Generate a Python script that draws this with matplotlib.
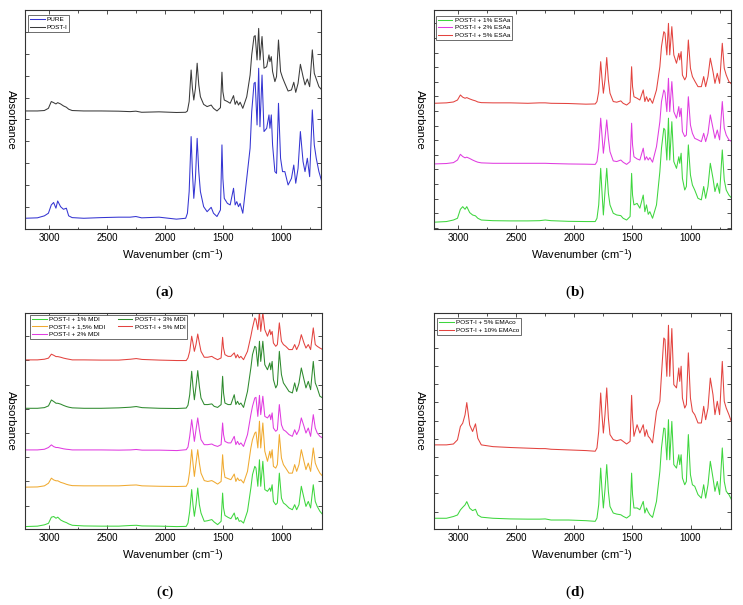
import matplotlib
matplotlib.use('Agg')
import matplotlib.pyplot as plt
from matplotlib.ticker import MultipleLocator

plt.rcParams['font.family'] = ['Liberation Sans', 'DejaVu Sans']
plt.rcParams['mathtext.fontset'] = 'custom'
plt.rcParams['mathtext.rm'] = 'Liberation Serif'
plt.rcParams['mathtext.bf'] = 'Liberation Serif:bold'
plt.rcParams['mathtext.it'] = 'Liberation Serif:italic'

# ---------------- data (wavenumber in cm-1, absorbance in arbitrary offset units) -------------
WAVENUMBER = [3210, 3100, 3040, 3005, 2980, 2960, 2940, 2925, 2900, 2875, 2850, 2830, 2800,
              2700, 2550, 2400, 2300, 2250, 2200, 2050, 1900,
              1820, 1805, 1790, 1773, 1762, 1750, 1736, 1721, 1707, 1693,
              1665, 1635, 1600, 1580, 1550, 1520, 1507, 1499, 1487, 1460,
              1436, 1407, 1393, 1379, 1364, 1350, 1327, 1293, 1264, 1250,
              1230, 1220, 1204, 1190, 1179, 1161, 1144, 1121, 1101, 1093,
              1081, 1070, 1050, 1036, 1019, 1001, 984, 964, 936, 907,
              887, 870, 850, 830, 807, 790, 770, 750, 727, 710,
              693, 670, 645]

# panel (a)
PURE = [0.49, 0.51, 0.60, 0.72, 1.10, 1.21, 0.95, 1.28, 1.02, 0.90, 0.95, 0.60, 0.52,
        0.49, 0.52, 0.54, 0.54, 0.57, 0.51, 0.54, 0.45,
        0.49, 0.72, 1.71, 4.22, 2.62, 1.40, 2.31, 4.14, 2.62, 1.71,
        1.02, 0.79, 0.99, 0.72, 0.57, 0.87, 3.84, 2.31, 1.40, 1.17,
        1.10, 1.86, 1.10, 1.25, 1.02, 1.17, 0.72, 2.31, 3.69, 5.36,
        6.65, 6.70, 4.75, 7.34, 4.67, 7.03, 4.45, 4.60, 5.21, 4.60,
        5.21, 3.84, 2.62, 2.54, 5.74, 3.23, 2.62, 2.62, 2.01, 2.31,
        2.92, 2.09, 2.77, 4.45, 3.08, 2.62, 3.23, 2.39, 5.44, 3.84,
        3.23, 2.62, 2.16]
POST_I = [5.39, 5.39, 5.41, 5.51, 5.82, 5.77, 5.71, 5.77, 5.71, 5.62, 5.56, 5.47, 5.41,
          5.39, 5.39, 5.38, 5.36, 5.38, 5.33, 5.35, 5.32,
          5.33, 5.39, 5.82, 7.26, 6.42, 5.89, 6.42, 7.57, 6.58, 6.04,
          5.69, 5.59, 5.66, 5.51, 5.39, 5.54, 7.16, 6.27, 5.89, 5.82,
          5.74, 6.09, 5.69, 5.85, 5.66, 5.79, 5.51, 6.04, 7.03, 7.95,
          8.79, 8.83, 7.72, 9.16, 7.72, 8.79, 7.34, 7.41, 7.95, 7.64,
          7.87, 7.19, 6.73, 6.96, 8.63, 7.19, 6.91, 6.65, 6.30, 6.35,
          6.70, 6.24, 6.65, 7.52, 6.96, 6.58, 6.85, 6.50, 8.18, 7.11,
          6.85, 6.50, 6.35]

# panel (b)
ESAA_1 = [0.31, 0.34, 0.41, 0.49, 0.90, 1.02, 0.90, 1.02, 0.75, 0.64, 0.60, 0.49, 0.41,
          0.38, 0.37, 0.37, 0.38, 0.41, 0.38, 0.35, 0.34,
          0.34, 0.49, 1.10, 2.77, 1.71, 0.64, 1.71, 2.77, 1.63, 1.10,
          0.72, 0.64, 0.61, 0.49, 0.41, 0.57, 2.54, 1.55, 1.10, 1.17,
          0.95, 1.55, 0.79, 1.10, 0.67, 0.79, 0.49, 1.10, 2.62, 3.69,
          4.60, 4.52, 3.15, 5.06, 3.15, 4.90, 3.08, 2.77, 3.30, 3.00,
          3.46, 2.31, 1.78, 1.94, 3.84, 2.47, 2.01, 1.78, 1.40, 1.33,
          1.94, 1.40, 1.94, 3.00, 2.31, 1.71, 2.09, 1.63, 3.61, 2.24,
          1.78, 1.55, 1.40]
ESAA_2 = [2.97, 2.99, 3.03, 3.15, 3.41, 3.31, 3.25, 3.28, 3.22, 3.15, 3.09, 3.05, 3.02,
          3.00, 3.00, 3.00, 3.00, 3.00, 2.99, 2.97, 2.96,
          2.95, 3.08, 3.69, 5.06, 4.29, 3.46, 4.14, 4.98, 4.14, 3.53,
          3.11, 3.08, 3.15, 3.05, 2.95, 3.08, 4.83, 3.84, 3.30, 3.20,
          3.15, 3.69, 3.15, 3.30, 3.15, 3.26, 3.05, 3.76, 4.90, 5.82,
          6.35, 6.24, 5.36, 6.88, 5.36, 6.73, 5.36, 5.06, 5.59, 5.13,
          5.51, 4.45, 4.22, 4.29, 6.04, 4.75, 4.37, 4.14, 4.07, 3.99,
          4.37, 3.99, 4.37, 5.21, 4.60, 4.14, 4.52, 4.07, 5.82, 4.60,
          4.29, 4.07, 3.99]
ESAA_5 = [5.74, 5.76, 5.80, 5.89, 6.12, 6.02, 5.97, 6.00, 5.94, 5.89, 5.85, 5.80, 5.77,
          5.76, 5.76, 5.74, 5.76, 5.76, 5.74, 5.73, 5.70,
          5.71, 5.82, 6.27, 7.64, 6.88, 6.20, 6.81, 7.83, 6.81, 6.20,
          5.82, 5.79, 5.85, 5.74, 5.66, 5.79, 7.41, 6.50, 6.04, 5.97,
          5.89, 6.35, 5.82, 6.04, 5.82, 5.97, 5.74, 6.35, 7.41, 8.33,
          9.01, 8.94, 7.95, 9.39, 7.95, 9.24, 7.95, 7.57, 8.02, 7.72,
          8.10, 7.03, 6.81, 6.96, 8.63, 7.34, 6.96, 6.76, 6.50, 6.50,
          6.96, 6.50, 6.96, 7.80, 7.19, 6.65, 7.11, 6.65, 8.48, 7.34,
          7.03, 6.73, 6.61]

# panel (c)
MDI_1 = [0.25, 0.27, 0.33, 0.40, 0.68, 0.71, 0.63, 0.68, 0.55, 0.48, 0.43, 0.37, 0.31,
         0.28, 0.27, 0.27, 0.30, 0.31, 0.28, 0.27, 0.25,
         0.26, 0.41, 0.95, 1.94, 1.25, 0.72, 1.25, 2.01, 1.25, 0.87,
         0.49, 0.52, 0.57, 0.46, 0.34, 0.49, 1.78, 1.10, 0.76, 0.67,
         0.61, 0.87, 0.57, 0.67, 0.49, 0.52, 0.41, 0.95, 2.01, 2.62,
         3.00, 2.92, 2.09, 3.30, 2.09, 3.23, 1.94, 1.86, 2.01, 1.86,
         2.16, 1.40, 1.25, 1.33, 2.69, 1.55, 1.33, 1.25, 1.10, 1.02,
         1.25, 1.02, 1.25, 2.09, 1.55, 1.17, 1.40, 1.10, 2.16, 1.40,
         1.17, 0.95, 0.79]
MDI_1_5 = [2.05, 2.06, 2.11, 2.23, 2.46, 2.38, 2.34, 2.34, 2.27, 2.23, 2.18, 2.15, 2.12,
           2.11, 2.11, 2.11, 2.14, 2.15, 2.11, 2.09, 2.08,
           2.09, 2.24, 2.77, 3.76, 3.15, 2.54, 3.15, 3.76, 3.15, 2.69,
           2.35, 2.31, 2.35, 2.29, 2.19, 2.31, 3.53, 2.92, 2.50, 2.44,
           2.39, 2.65, 2.31, 2.47, 2.35, 2.39, 2.24, 2.77, 3.84, 4.22,
           4.52, 4.57, 3.84, 5.06, 3.84, 4.98, 3.69, 3.23, 3.69, 3.38,
           3.76, 3.00, 2.92, 3.08, 4.45, 3.38, 3.08, 2.92, 2.69, 2.69,
           3.08, 2.77, 3.08, 3.76, 3.23, 2.85, 3.15, 2.77, 3.84, 3.15,
           2.92, 2.69, 2.54]
MDI_2 = [3.75, 3.75, 3.78, 3.86, 3.98, 3.90, 3.86, 3.86, 3.83, 3.80, 3.78, 3.77, 3.75,
         3.75, 3.75, 3.74, 3.75, 3.77, 3.74, 3.74, 3.72,
         3.76, 3.88, 4.37, 5.13, 4.67, 4.14, 4.67, 5.21, 4.67, 4.22,
         3.99, 3.99, 4.02, 3.96, 3.91, 3.99, 4.98, 4.45, 4.14, 4.07,
         4.07, 4.37, 3.99, 4.14, 3.99, 4.07, 3.91, 4.45, 5.36, 5.74,
         6.12, 6.15, 5.28, 6.24, 5.36, 6.20, 5.28, 5.21, 5.36, 5.13,
         5.44, 4.75, 4.60, 4.67, 5.82, 4.90, 4.67, 4.60, 4.45, 4.37,
         4.67, 4.45, 4.67, 5.21, 4.83, 4.52, 4.75, 4.37, 5.36, 4.75,
         4.52, 4.37, 4.29]
MDI_3 = [5.65, 5.65, 5.68, 5.76, 6.03, 5.96, 5.88, 5.88, 5.84, 5.78, 5.73, 5.70, 5.67,
         5.65, 5.65, 5.67, 5.70, 5.73, 5.68, 5.65, 5.64,
         5.66, 5.79, 6.27, 7.34, 6.65, 6.04, 6.65, 7.37, 6.65, 6.12,
         5.82, 5.82, 5.85, 5.74, 5.69, 5.82, 7.11, 6.35, 5.89, 5.82,
         5.82, 6.27, 5.82, 5.97, 5.82, 5.89, 5.69, 6.42, 7.49, 8.10,
         8.48, 8.43, 7.57, 8.71, 7.79, 8.71, 7.64, 7.41, 7.72, 7.41,
         7.79, 6.96, 6.58, 6.73, 8.25, 7.19, 6.81, 6.65, 6.42, 6.35,
         6.81, 6.42, 6.81, 7.49, 6.96, 6.58, 6.88, 6.50, 7.79, 6.81,
         6.58, 6.20, 6.12]
MDI_5 = [7.86, 7.86, 7.89, 7.94, 8.12, 8.07, 8.01, 8.01, 7.98, 7.94, 7.91, 7.89, 7.86,
         7.86, 7.85, 7.85, 7.89, 7.92, 7.88, 7.85, 7.83,
         7.83, 7.95, 8.25, 8.94, 8.63, 8.25, 8.56, 9.04, 8.63, 8.25,
         7.98, 7.98, 8.02, 7.95, 7.87, 7.95, 8.89, 8.40, 8.10, 8.02,
         8.02, 8.18, 7.95, 8.10, 7.95, 8.02, 7.87, 8.25, 8.94, 9.32,
         9.77, 9.70, 9.24, 10.05, 9.16, 10.02, 9.24, 8.94, 9.24, 9.01,
         9.16, 8.63, 8.48, 8.56, 9.55, 8.71, 8.56, 8.48, 8.33, 8.33,
         8.56, 8.33, 8.56, 9.01, 8.63, 8.40, 8.56, 8.33, 9.32, 8.56,
         8.48, 8.40, 8.33]

# panel (d)
EMACO_5 = [0.63, 0.63, 0.71, 0.78, 1.01, 1.13, 1.24, 1.39, 1.09, 0.98, 1.04, 0.78, 0.68,
           0.63, 0.60, 0.59, 0.59, 0.60, 0.55, 0.55, 0.52,
           0.49, 0.64, 1.25, 2.92, 1.94, 1.10, 1.94, 3.08, 1.86, 1.17,
           0.87, 0.82, 0.79, 0.72, 0.64, 0.76, 2.69, 1.71, 1.10, 1.10,
           1.02, 1.40, 0.87, 1.10, 0.91, 0.79, 0.67, 1.40, 2.77, 3.84,
           4.75, 4.72, 3.30, 5.13, 3.30, 5.05, 3.08, 2.92, 3.53, 3.08,
           3.53, 2.47, 2.16, 2.31, 4.45, 2.62, 2.16, 2.09, 1.71, 1.55,
           2.16, 1.55, 2.16, 3.23, 2.47, 1.86, 2.31, 1.71, 3.84, 2.31,
           1.86, 1.71, 1.45]
EMACO_10 = [3.98, 3.98, 4.02, 4.21, 4.82, 4.97, 5.35, 5.91, 4.89, 4.59, 4.94, 4.28, 3.98,
            3.90, 3.86, 3.83, 3.81, 3.81, 3.78, 3.75, 3.72,
            3.69, 3.84, 4.60, 6.35, 5.36, 4.52, 5.36, 6.58, 5.21, 4.45,
            4.22, 4.17, 4.22, 4.14, 4.02, 4.14, 6.24, 5.21, 4.37, 4.90,
            4.52, 4.90, 4.37, 4.67, 4.37, 4.29, 4.07, 5.51, 5.97, 7.19,
            8.86, 8.79, 7.11, 9.44, 7.11, 9.29, 6.73, 6.58, 7.49, 6.88,
            7.57, 6.12, 5.66, 5.82, 8.18, 6.12, 5.51, 5.36, 4.98, 4.98,
            5.74, 5.13, 5.66, 7.03, 6.27, 5.36, 5.97, 5.36, 7.79, 5.97,
            5.66, 5.36, 4.98]

LABELS_A = ['PURE', 'POST-I']
LABELS_B = ['POST-I + 1% ESAa', 'POST-I + 2% ESAa', 'POST-I + 5% ESAa']
LABELS_C = ['POST-I + 1% MDI', 'POST-I + 1,5% MDI', 'POST-I + 2% MDI',
            'POST-I + 3% MDI', 'POST-I + 5% MDI']
LABELS_D = ['POST-I + 5% EMAco', 'POST-I + 10% EMAco']
X_TICKS = [3000, 2500, 2000, 1500, 1000]

# ---------------- style ----------------
BLUE = '#3535d2'
BLACK = '#3a3a3a'
RED = '#e3433f'
MAGENTA = '#e03ce0'
LGREEN = '#3ed63e'
ORANGE = '#f0aa30'
DGREEN = '#2e8a2e'

W, H = 743, 605
fig = plt.figure(figsize=(W / 100, H / 100), dpi=100)


def make_axes(left, top, right, bottom):
    return fig.add_axes([left / W, 1 - bottom / H, (right - left) / W, (bottom - top) / H])


def style_axes(ax, ylim, ystep, yoff, legend_anchor, ncol=1):
    ax.set_xlim(3207, 652)
    ax.set_ylim(*ylim)
    ax.set_xticks(X_TICKS)
    ax.set_xticklabels([str(t) for t in X_TICKS])
    ax.xaxis.set_minor_locator(MultipleLocator(250))
    ax.yaxis.set_major_locator(MultipleLocator(ystep, offset=yoff))
    ax.tick_params(which='both', direction='in', top=True, right=True, left=True, bottom=True,
                   labelleft=False, width=0.6, color='#333333')
    ax.tick_params(which='major', length=3.0, labelsize=7, pad=3.2)
    ax.tick_params(which='minor', length=1.8)
    for s in ax.spines.values():
        s.set_linewidth(0.8)
        s.set_color('#333333')
    ax.set_xlabel('Wavenumber (cm$^{\\mathregular{-1}}$)', fontsize=8, labelpad=3)
    ax.set_ylabel('Absorbance', fontsize=8, rotation=270, va='center', ha='center')
    pw = ax.get_position().width * W
    ax.yaxis.set_label_coords(-14.5 / pw, 0.5)
    leg = ax.legend(loc='upper left', bbox_to_anchor=legend_anchor, borderaxespad=0,
                    fontsize=4.6, ncol=ncol, handlelength=2.3, handletextpad=0.35,
                    borderpad=0.3, labelspacing=0.3, columnspacing=2.0,
                    fancybox=False, framealpha=1, edgecolor='#555555')
    leg.get_frame().set_linewidth(0.6)


lw = 0.75

# (a)
ax = make_axes(25, 10, 321, 229)
ax.plot(WAVENUMBER, PURE, color=BLUE, lw=lw, label=LABELS_A[0])
ax.plot(WAVENUMBER, POST_I, color=BLACK, lw=lw, label=LABELS_A[1])
style_axes(ax, (0, 10), 1.0, 0.0, (0.01, 0.977))

# (b)
ax = make_axes(434, 10, 731, 229)
ax.plot(WAVENUMBER, ESAA_1, color=LGREEN, lw=lw, label=LABELS_B[0])
ax.plot(WAVENUMBER, ESAA_2, color=MAGENTA, lw=lw, label=LABELS_B[1])
ax.plot(WAVENUMBER, ESAA_5, color=RED, lw=lw, label=LABELS_B[2])
style_axes(ax, (0, 10), 0.667, 0.05, (0.006, 0.974))

# (c)
ax = make_axes(25, 313, 322, 529)
ax.plot(WAVENUMBER, MDI_1, color=LGREEN, lw=lw, label=LABELS_C[0])
ax.plot(WAVENUMBER, MDI_1_5, color=ORANGE, lw=lw, label=LABELS_C[1])
ax.plot(WAVENUMBER, MDI_2, color=MAGENTA, lw=lw, label=LABELS_C[2])
ax.plot(WAVENUMBER, MDI_3, color=DGREEN, lw=lw, label=LABELS_C[3])
ax.plot(WAVENUMBER, MDI_5, color=RED, lw=lw, label=LABELS_C[4])
style_axes(ax, (0.14, 10.0), 1.105, 0.1, (0.017, 0.991), ncol=2)

# (d)
ax = make_axes(434, 313, 731, 529)
ax.plot(WAVENUMBER, EMACO_5, color=LGREEN, lw=lw, label=LABELS_D[0])
ax.plot(WAVENUMBER, EMACO_10, color=RED, lw=lw, label=LABELS_D[1])
style_axes(ax, (0.14, 10.0), 0.831, 0.1, (0.01, 0.977))

# panel letters
for letter, x, y in [('a', 165, 292), ('b', 575, 292), ('c', 165, 592), ('d', 575, 592)]:
    fig.text(x / W, 1 - y / H, '($\\mathbf{%s}$)' % letter, family='Liberation Serif',
             fontsize=11, ha='center', va='center')

fig.savefig('out.png', dpi=100)
